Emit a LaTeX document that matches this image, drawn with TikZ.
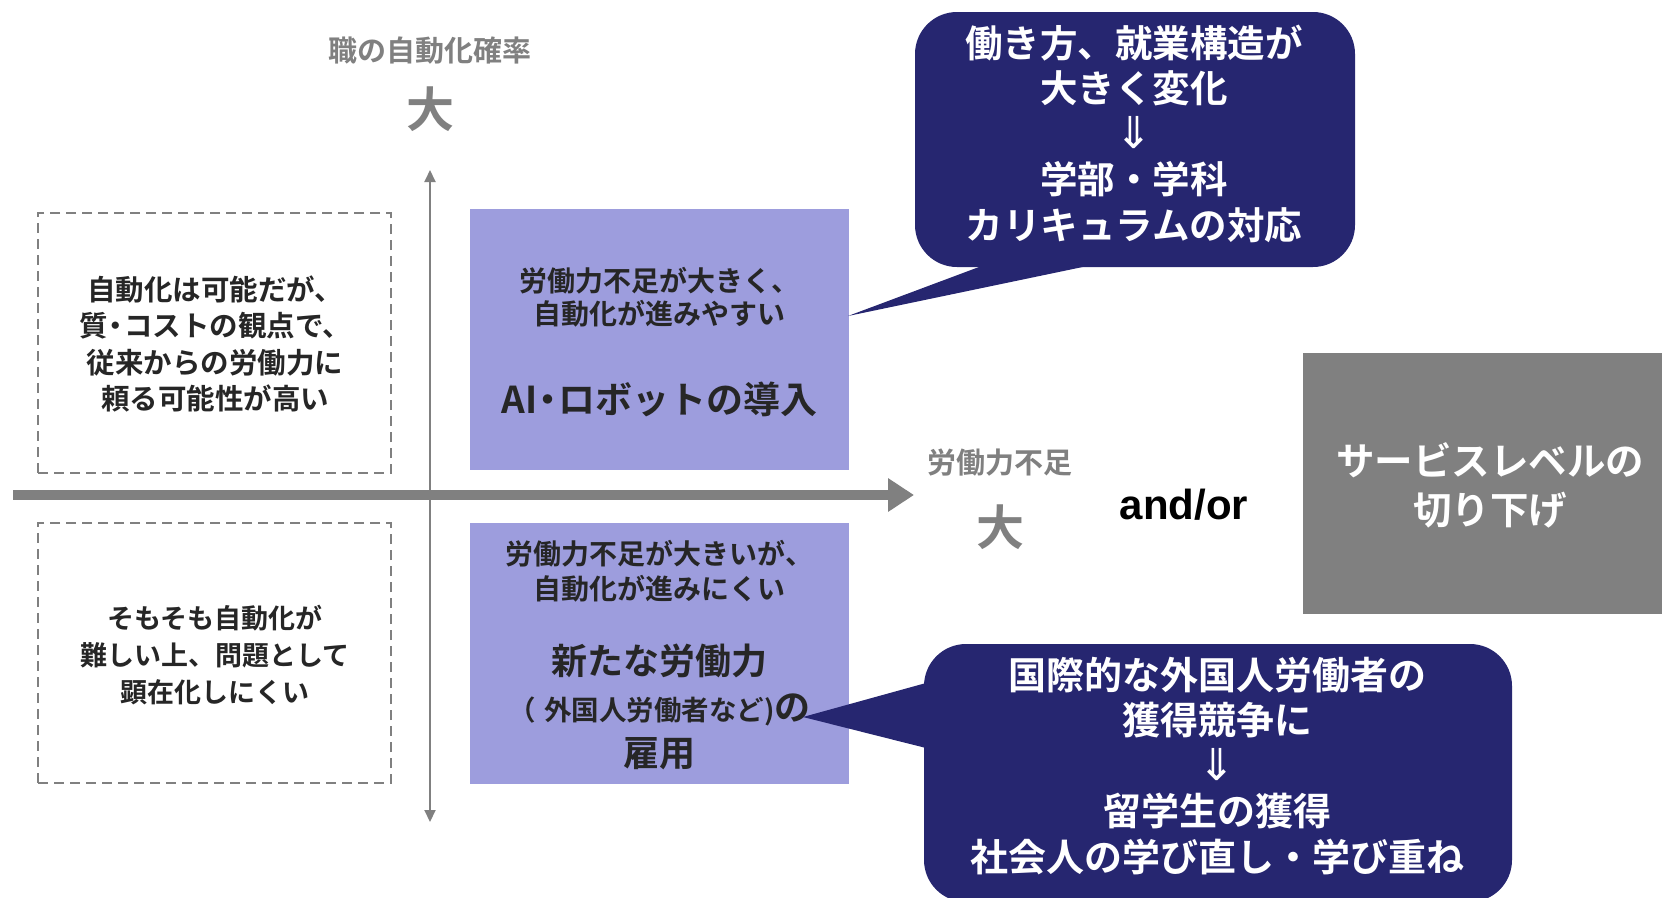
\documentclass[tikz,border=0pt]{standalone}
\usepackage{fontspec}
\setmainfont{Noto Sans CJK JP}[BoldFont={Noto Sans CJK JP Bold}]
\newfontfamily\arialfont{Liberation Sans}
\newfontfamily\symfont{DejaVu Sans}
\usetikzlibrary{arrows.meta}
\definecolor{navy}{RGB}{38,38,112}
\definecolor{lav}{RGB}{157,157,221}
\definecolor{midgray}{RGB}{128,128,128}
\definecolor{ink}{RGB}{38,38,38}
\newcommand\fsz[2]{\fontsize{#1}{#2}\selectfont}
\tikzset{
  box/.style={inner sep=0pt, outer sep=0pt, anchor=north west},
  lavbox/.style={box, fill=lav, minimum width=379pt, minimum height=261pt},
  dashbox/.style={box, draw=midgray, line width=2pt, dash pattern=on 10pt off 6pt, minimum width=353pt, minimum height=260pt},
  callout/.style={box, fill=navy, rounded corners=42pt},
  inktxt/.style={text=ink, align=center, inner sep=0pt},
  whitetxt/.style={text=white, align=center, inner sep=0pt},
  graytxt/.style={text=midgray, align=center, inner sep=0pt},
}
\begin{document}
\begin{tikzpicture}[x=1pt,y=-1pt]
\useasboundingbox (0,0) rectangle (1662,897);

% quadrant boxes
\node[dashbox] (tl) at (38,213) {};
\node[dashbox] (bl) at (38,523) {};
\node[lavbox] (tr) at (470,209) {};
\node[lavbox] (br) at (470,523) {};

% axes
\coordinate (xs) at (13,495);
\coordinate (xe) at (914,495);
\coordinate (ys) at (430,822);
\coordinate (ye) at (430,170);
\draw[midgray, line width=2pt, {Triangle[length=12pt,width=11pt]}-{Triangle[length=12pt,width=11pt]}] (ys) -- (ye);
\draw[midgray, line width=10pt, -{Triangle[length=26pt,width=32pt]}] (xs) -- (xe);

% axis labels
\node[graytxt, font=\bfseries\fsz{29}{32}] (ylab) at (430,51) {職の自動化確率};
\node[graytxt, font=\bfseries\fsz{48}{56}] (ybig) at (430,109) {大};
\node[graytxt, font=\bfseries\fsz{29}{32}] (xlab) at (1000,463) {労働力不足};
\node[graytxt, font=\bfseries\fsz{48}{56}] (xbig) at (1000,527) {大};

% left box texts
\node[inktxt, font=\bfseries\fsz{28.5}{36.5}] (tltext) at (215,344) {自動化は可能だが、\\質\kern-6pt・\kern-6ptコストの観点で、\\従来からの労働力に\\頼る可能性が高い};
\node[inktxt, font=\bfseries\fsz{27}{37}] (bltext) at (215,655) {そもそも自動化が\\難しい上、問題として\\顕在化しにくい};

% right quadrant texts
\node[inktxt, font=\bfseries\fsz{28}{33}] (trsub) at (659.5,297.5) {労働力不足が大きく、\\自動化が進みやすい};
\node[inktxt, font=\bfseries\fsz{37}{42}] (trmain) at (659.5,399) {AI\kern-8pt・\kern-8ptロボットの導入};
\node[inktxt, font=\bfseries\fsz{28}{35}] (brsub) at (659.5,571.5) {労働力不足が大きいが、\\自動化が進みにくい};
\node[inktxt, font=\bfseries\fsz{36}{46}] (brmain) at (659.5,707) {新たな労働力\\{\fsz{27.5}{46}（\kern8pt外国人労働者など)}の\\雇用};

% callouts
\node[callout, minimum width=440pt, minimum height=255pt] (c1) at (915,12) {};
\coordinate (c1a) at (987,264);
\coordinate (c1b) at (1097,264);
\coordinate (c1tip) at (848,316);
\fill[navy] (c1a) -- (c1tip) -- (c1b) -- cycle;
\node[whitetxt, font=\bfseries\fsz{37.5}{45.5}] (c1text) at (1134,133.5) {働き方、就業構造が\\大きく変化\\{\symfont\mdseries\fsz{44}{45.5}⇓}\\学部・学科\\カリキュラムの対応};

\node[callout, minimum width=588pt, minimum height=258pt] (c2) at (924,644) {};
\coordinate (c2a) at (926,683);
\coordinate (c2b) at (926,748);
\coordinate (c2tip) at (803,717);
\fill[navy] (c2a) -- (c2tip) -- (c2b) -- cycle;
\node[whitetxt, font=\bfseries\fsz{38}{45.5}] (c2text) at (1217,766) {国際的な外国人労働者の\\獲得競争に\\{\symfont\mdseries\fsz{44}{45.5}⇓}\\留学生の獲得\\社会人の学び直し・学び重ね};

% and/or and service level
\node[inktxt, text=black, font=\arialfont\bfseries\fsz{42}{48}] (andor) at (1184,505) {and/or};
\node[box, fill=midgray, minimum width=359pt, minimum height=261pt] (svc) at (1303,353) {};
\node[whitetxt, font=\bfseries\fsz{38.5}{49}] (svctext) at (1490,485.5) {サービスレベルの\\切り下げ};
\end{tikzpicture}
\end{document}
